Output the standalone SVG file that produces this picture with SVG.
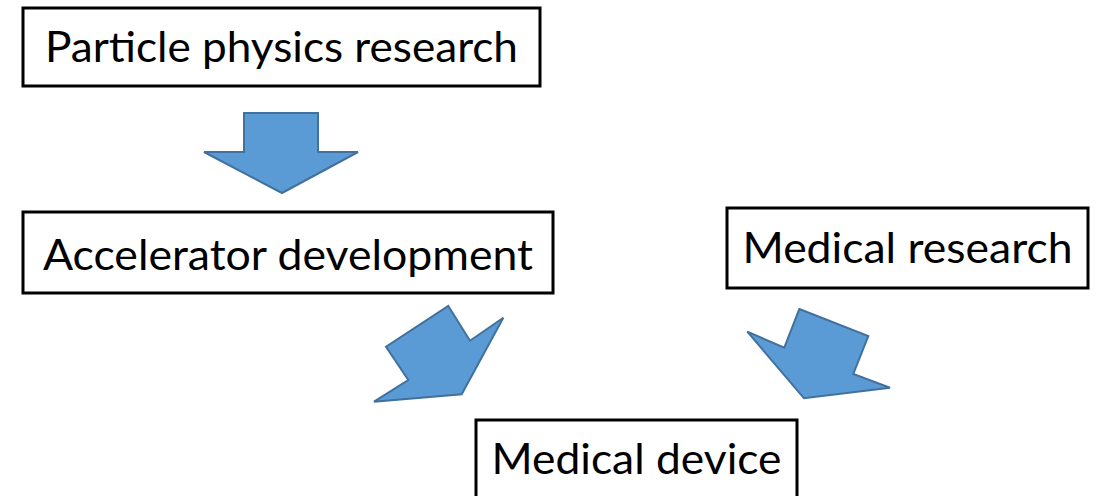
<svg xmlns="http://www.w3.org/2000/svg" width="1105" height="496" viewBox="0 0 1105 496">
<style>
.box{fill:#fff;stroke:#000;stroke-width:3}
.lbl{font-family:Lato,"Open Sans",sans-serif;font-size:43px;fill:#000}
.arr{fill:#5B9BD5;stroke:#41719C;stroke-width:2;stroke-linejoin:miter}
</style>
<rect width="1105" height="496" fill="#fff"/>
<g id="connectors">
<polygon class="arr" points="244,113 318,113 318,152 358,152 282,193 204,152 244,152"/>
<polygon class="arr" points="448.3,306 470,340.7 503.3,317.7 461.7,394.3 374,401.7 408.3,380 386,346.7"/>
<polygon class="arr" points="799.3,309 868.3,336 853.3,374 890,387.7 804,398.3 747.3,331.7 784.3,347.7"/>
</g>
<g id="n1">
<rect class="box" x="23" y="8" width="517" height="78"/>
<text class="lbl" x="281.5" y="62" text-anchor="middle" textLength="473" lengthAdjust="spacingAndGlyphs">Particle physics research</text>
</g>
<g id="n2">
<rect class="box" x="23" y="212" width="530" height="81"/>
<text class="lbl" x="288" y="270" text-anchor="middle" textLength="490" lengthAdjust="spacingAndGlyphs">Accelerator development</text>
</g>
<g id="n3">
<rect class="box" x="727" y="208" width="361" height="80"/>
<text class="lbl" x="907.5" y="263" text-anchor="middle" textLength="330" lengthAdjust="spacingAndGlyphs">Medical research</text>
</g>
<g id="n4">
<rect class="box" x="476" y="420" width="321" height="78"/>
<text class="lbl" x="636.5" y="474" text-anchor="middle" textLength="290" lengthAdjust="spacingAndGlyphs">Medical device</text>
</g>
</svg>
